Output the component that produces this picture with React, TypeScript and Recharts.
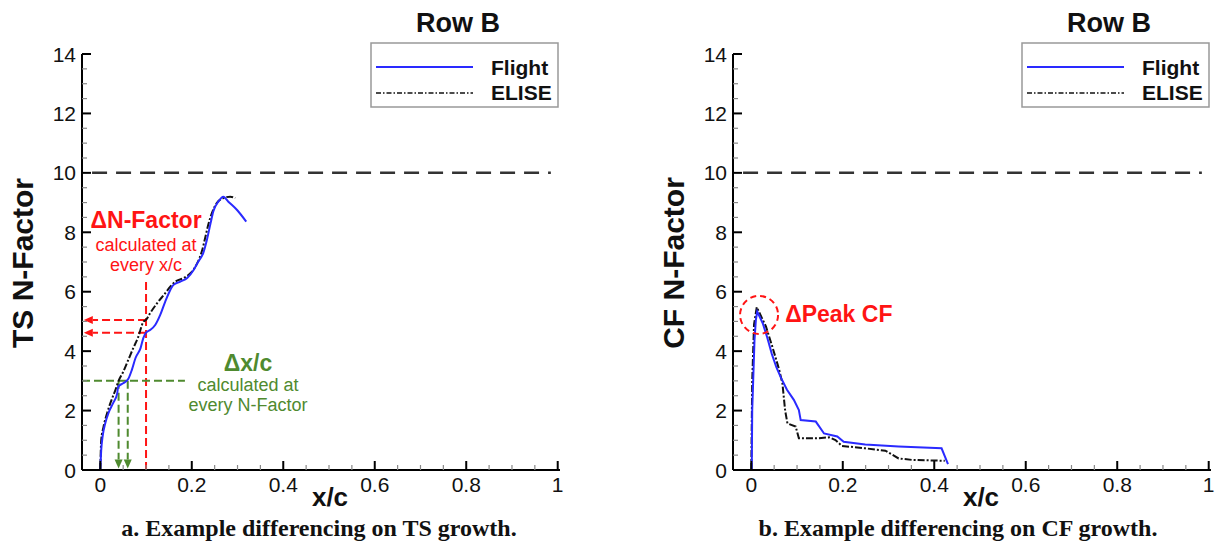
import { LineChart, Line, XAxis, YAxis, ReferenceLine, ReferenceDot } from 'recharts';

const SANS = '"Liberation Sans", Arial, Helvetica, sans-serif';
const SERIF = '"Liberation Serif", "Times New Roman", serif';

const RED = '#ff1414';
const GREEN = '#4f8a2f';
const BLUE = '#2a2aff';

// axis ticks (minor every 0.05 / 0.5, labelled majors)
const X_TICKS = [0, 0.05, 0.1, 0.15, 0.2, 0.25, 0.3, 0.35, 0.4, 0.45, 0.5, 0.55, 0.6, 0.65, 0.7, 0.75, 0.8, 0.85, 0.9, 0.95, 1];
const X_LABELS = [0, 0.2, 0.4, 0.6, 0.8, 1];
const Y_TICKS = [0, 0.5, 1, 1.5, 2, 2.5, 3, 3.5, 4, 4.5, 5, 5.5, 6, 6.5, 7, 7.5, 8, 8.5, 9, 9.5, 10, 10.5, 11, 11.5, 12, 12.5, 13, 13.5, 14];
const Y_LABELS = [0, 2, 4, 6, 8, 10, 12, 14];

const SERIES = ['Flight', 'ELISE'];
const TITLE = 'Row B';
const N_LIMIT = 10;

// [x/c, N-factor]
const TS_FLIGHT = [
  [0, 0], [0.002, 0.67], [0.005, 1.12], [0.011, 1.58], [0.018, 1.92], [0.028, 2.25], [0.037, 2.58],
  [0.039, 2.8], [0.05, 2.92], [0.061, 3.06], [0.069, 3.37], [0.077, 3.77], [0.088, 4.1], [0.094, 4.44],
  [0.1, 4.62], [0.109, 4.71], [0.12, 4.88], [0.131, 5.22], [0.142, 5.67], [0.153, 6.06], [0.16, 6.23],
  [0.175, 6.34], [0.19, 6.46], [0.204, 6.73], [0.214, 7.01], [0.225, 7.3], [0.233, 7.74], [0.241, 8.3],
  [0.247, 8.7], [0.258, 9.03], [0.269, 9.2], [0.28, 9.03], [0.299, 8.75], [0.319, 8.36],
];
const TS_ELISE = [
  [0, 0], [0.002, 1.0], [0.007, 1.45], [0.015, 1.92], [0.022, 2.25], [0.033, 2.69], [0.04, 3.0],
  [0.05, 3.3], [0.061, 3.7], [0.072, 4.1], [0.083, 4.48], [0.094, 4.98], [0.1, 5.05], [0.109, 5.28],
  [0.124, 5.61], [0.142, 5.95], [0.153, 6.17], [0.164, 6.34], [0.182, 6.46], [0.197, 6.62], [0.212, 6.96],
  [0.223, 7.41], [0.23, 7.86], [0.236, 8.25], [0.244, 8.65], [0.255, 8.99], [0.269, 9.15], [0.284, 9.2],
  [0.295, 9.15],
];
const CF_FLIGHT = [
  [0.001, 0], [0.002, 2.0], [0.007, 4.38], [0.01, 5.05], [0.013, 5.33], [0.025, 4.94], [0.035, 4.45],
  [0.045, 3.9], [0.055, 3.45], [0.065, 3.1], [0.078, 2.7], [0.093, 2.36], [0.104, 2.02], [0.108, 1.68],
  [0.141, 1.63], [0.159, 1.23], [0.188, 1.13], [0.202, 0.95], [0.249, 0.86], [0.322, 0.79], [0.416, 0.73],
  [0.43, 0.2],
];
const CF_ELISE = [
  [0, 0], [0.002, 3.0], [0.006, 4.9], [0.012, 5.48], [0.032, 4.83], [0.046, 4.15], [0.061, 3.37],
  [0.068, 2.92], [0.074, 2.0], [0.079, 1.57], [0.097, 1.46], [0.104, 1.07], [0.148, 1.07], [0.17, 1.1],
  [0.184, 1.01], [0.198, 0.81], [0.249, 0.73], [0.293, 0.65], [0.322, 0.39], [0.351, 0.34], [0.423, 0.31],
];

// differencing markers on the TS panel
const DX_STATION = 0.1;
const DN_AT_STATION = [5.05, 4.62]; // ELISE, Flight at x/c = 0.1
const DN_TARGET = 3;
const DX_AT_TARGET = [0.04, 0.06]; // ELISE, Flight at N = 3
const CF_PEAK = [0.017, 5.22];

const toPoints = (rows: number[][]) => rows.map(([x, n]) => ({ x, n }));

const isMajor = (v: number, list: number[]) => list.some((m) => Math.abs(m - v) < 1e-9);

const XTick = (p: any) => {
  const v = p.payload.value;
  const major = isMajor(v, X_LABELS);
  return (
    <g>
      <line x1={p.x} x2={p.x} y1={p.y} y2={p.y - (major ? 9 : 5)} stroke={major ? '#000' : '#888'} strokeWidth={major ? 2 : 1.2} />
      {major && (
        <text x={p.x} y={p.y + 22} textAnchor="middle" fontSize={21} fontFamily={SANS} fill="#111">
          {String(v)}
        </text>
      )}
    </g>
  );
};

const YTick = (p: any) => {
  const v = p.payload.value;
  const major = isMajor(v, Y_LABELS);
  return (
    <g>
      <line x1={p.x} x2={p.x + (major ? 9 : 5)} y1={p.y} y2={p.y} stroke={major ? '#000' : '#888'} strokeWidth={major ? 2 : 1.2} />
      {major && (
        <text x={p.x - 6} y={p.y} dy="0.36em" textAnchor="end" fontSize={21} fontFamily={SANS} fill="#111">
          {String(v)}
        </text>
      )}
    </g>
  );
};

// dashed line with a filled head at the second end point
const arrow = (color: string) => (p: any) => {
  const { x1, y1, x2, y2 } = p;
  const len = Math.hypot(x2 - x1, y2 - y1) || 1;
  const ux = (x2 - x1) / len;
  const uy = (y2 - y1) / len;
  const bx = x2 - ux * 9;
  const by = y2 - uy * 9;
  return (
    <g>
      <line x1={x1} y1={y1} x2={bx} y2={by} stroke={color} strokeWidth={2} strokeDasharray="8 4" />
      <polygon points={`${x2},${y2} ${bx - uy * 4},${by + ux * 4} ${bx + uy * 4},${by - ux * 4}`} fill={color} />
    </g>
  );
};

const dashed = (color: string) => (p: any) => (
  <line x1={p.x1} y1={p.y1} x2={p.x2} y2={p.y2} stroke={color} strokeWidth={2} strokeDasharray="8 4" />
);

type NoteLine = { text: string; size: number; bold?: boolean; dy: number };

const note = (lines: NoteLine[], color: string, anchor: 'start' | 'middle') => (p: any) => (
  <text x={p.cx} y={p.cy} fill={color} textAnchor={anchor} fontFamily={SANS}>
    {lines.map((l, i) => (
      <tspan key={i} x={p.cx} dy={l.dy} fontSize={l.size} fontWeight={l.bold ? 'bold' : 'normal'}>
        {l.text}
      </tspan>
    ))}
  </text>
);

const tsNotes = [
  <ReferenceLine key="vr" segment={[{ x: DX_STATION, y: 0 }, { x: DX_STATION, y: 6.4 }]} shape={dashed(RED)} ifOverflow="visible" />,
  ...DN_AT_STATION.map((n, i) => (
    <ReferenceLine key={'hr' + i} segment={[{ x: DX_STATION, y: n }, { x: -0.036, y: n }]} shape={arrow(RED)} ifOverflow="visible" />
  )),
  <ReferenceLine key="hg" segment={[{ x: -0.04, y: DN_TARGET }, { x: 0.185, y: DN_TARGET }]} shape={dashed(GREEN)} ifOverflow="visible" />,
  ...DX_AT_TARGET.map((x, i) => (
    <ReferenceLine key={'vg' + i} segment={[{ x, y: DN_TARGET }, { x, y: 0.05 }]} shape={arrow(GREEN)} ifOverflow="visible" />
  )),
  <ReferenceDot
    key="tr"
    x={0.1}
    y={8.15}
    ifOverflow="visible"
    shape={note(
      [
        { text: '\u0394N-Factor', size: 23, bold: true, dy: 0 },
        { text: 'calculated at', size: 18, dy: 23 },
        { text: 'every x/c', size: 18, dy: 20 },
      ],
      RED,
      'middle',
    )}
  />,
  <ReferenceDot
    key="tg"
    x={0.323}
    y={3.33}
    ifOverflow="visible"
    shape={note(
      [
        { text: '\u0394x/c', size: 23, bold: true, dy: 0 },
        { text: 'calculated at', size: 18, dy: 20 },
        { text: 'every N-Factor', size: 18, dy: 20 },
      ],
      GREEN,
      'middle',
    )}
  />,
];

const cfNotes = [
  <ReferenceDot
    key="ring"
    x={CF_PEAK[0]}
    y={CF_PEAK[1]}
    r={19}
    fill="none"
    stroke={RED}
    strokeWidth={2}
    strokeDasharray="6 4"
    ifOverflow="visible"
  />,
  <ReferenceDot
    key="peak"
    x={0.074}
    y={4.98}
    ifOverflow="visible"
    shape={note([{ text: '\u0394Peak CF', size: 23, bold: true, dy: 0 }], RED, 'start')}
  />,
];

type PanelProps = {
  left: number;
  yTitle: string;
  caption: string;
  captionX: number;
  flight: number[][];
  elise: number[][];
  curve: 'monotone' | 'linear';
  notes: any[];
};

function Panel({ left, yTitle, caption, captionX, flight, elise, curve, notes }: PanelProps) {
  return (
    <div style={{ position: 'absolute', left, top: 0, width: 600, height: 550 }}>
      <LineChart width={600} height={550} margin={{ top: 54, right: 40, bottom: 0, left: 0 }}>
        <XAxis
          dataKey="x"
          type="number"
          domain={[-0.04, 1.005]}
          allowDataOverflow
          ticks={X_TICKS}
          interval={0}
          tickSize={0}
          tickMargin={0}
          tickLine={false}
          tick={XTick}
          axisLine={{ stroke: '#000', strokeWidth: 2 }}
          height={80}
        />
        <YAxis
          type="number"
          domain={[0, 14]}
          allowDataOverflow
          ticks={Y_TICKS}
          interval={0}
          tickSize={0}
          tickMargin={0}
          tickLine={false}
          tick={YTick}
          axisLine={{ stroke: '#000', strokeWidth: 2 }}
          width={82}
        />
        <ReferenceLine
          segment={[{ x: -0.018, y: N_LIMIT }, { x: 0.985, y: N_LIMIT }]}
          stroke="#333"
          strokeWidth={2.5}
          strokeDasharray="15 9"
          ifOverflow="visible"
        />
        {notes}
        <Line
          data={toPoints(elise)}
          dataKey="n"
          name={SERIES[1]}
          type={curve}
          stroke="#111"
          strokeWidth={2}
          strokeDasharray="7 2 2 2"
          dot={false}
          isAnimationActive={false}
        />
        <Line
          data={toPoints(flight)}
          dataKey="n"
          name={SERIES[0]}
          type={curve}
          stroke={BLUE}
          strokeWidth={2}
          dot={false}
          isAnimationActive={false}
        />
      </LineChart>
      <svg width={600} height={550} style={{ position: 'absolute', left: 0, top: 0, pointerEvents: 'none' }}>
        <text x={458} y={32} textAnchor="middle" fontFamily={SANS} fontWeight="bold" fontSize={27} fill="#111">
          {TITLE}
        </text>
        <rect x={371} y={43} width={187} height={64} fill="#fff" stroke="#999" strokeWidth={1.5} />
        <line x1={376} x2={473} y1={67} y2={67} stroke={BLUE} strokeWidth={2} />
        <line x1={376} x2={473} y1={93} y2={93} stroke="#111" strokeWidth={1.5} strokeDasharray="5 2 1.5 2" />
        <text x={491} y={75} fontFamily={SANS} fontWeight="bold" fontSize={21} fill="#111">{SERIES[0]}</text>
        <text x={491} y={100} fontFamily={SANS} fontWeight="bold" fontSize={21} fill="#111">{SERIES[1]}</text>
        <text
          x={22}
          y={263}
          transform="rotate(-90 22 263)"
          textAnchor="middle"
          dy="0.36em"
          fontFamily={SANS}
          fontWeight="bold"
          fontSize={30}
          fill="#111"
        >
          {yTitle}
        </text>
        <text x={330} y={506} textAnchor="middle" fontFamily={SANS} fontWeight="bold" fontSize={26} fill="#111">
          x/c
        </text>
        <text x={captionX} y={536} textAnchor="middle" fontFamily={SERIF} fontWeight="bold" fontSize={24} fill="#111">
          {caption}
        </text>
      </svg>
    </div>
  );
}

export default function App() {
  return (
    <div style={{ position: 'absolute', left: 0, top: 0, width: 1215, height: 550, overflow: 'hidden', background: '#fff' }}>
      <Panel
        left={0}
        yTitle="TS N-Factor"
        caption="a. Example differencing on TS growth."
        captionX={319}
        flight={TS_FLIGHT}
        elise={TS_ELISE}
        curve="monotone"
        notes={tsNotes}
      />
      <Panel
        left={651}
        yTitle="CF N-Factor"
        caption="b. Example differencing on CF growth."
        captionX={307}
        flight={CF_FLIGHT}
        elise={CF_ELISE}
        curve="linear"
        notes={cfNotes}
      />
    </div>
  );
}
